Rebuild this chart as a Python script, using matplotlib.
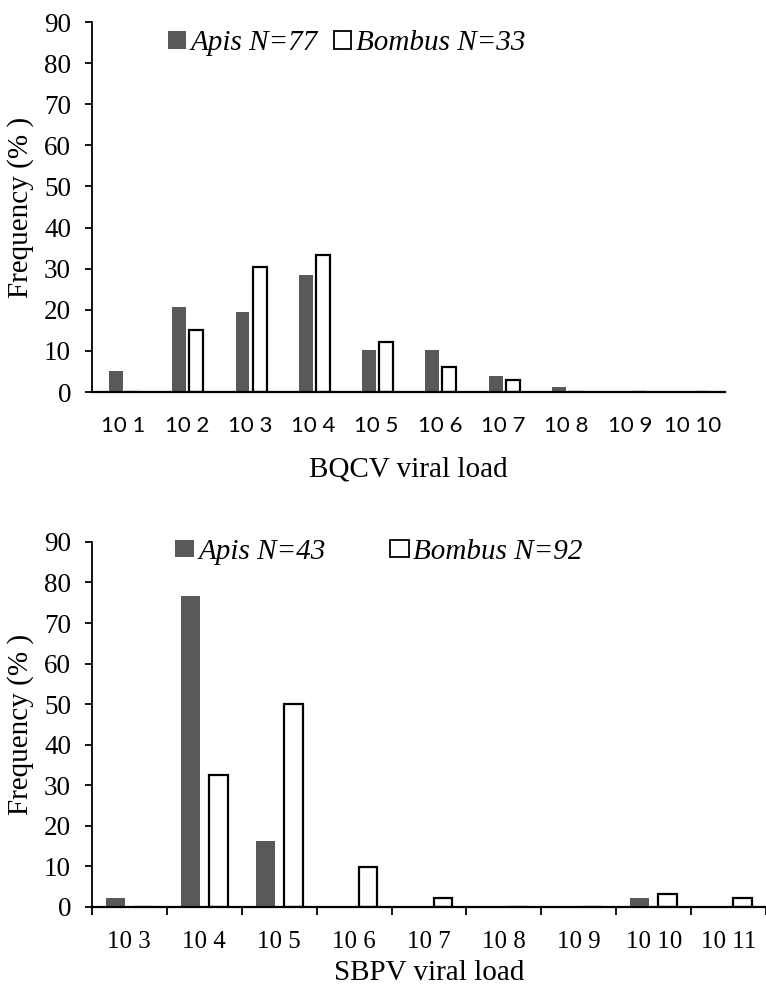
import matplotlib
matplotlib.use("Agg")
import matplotlib.pyplot as plt
from matplotlib.patches import Patch
import numpy as np

# BQCV panel
bqcv_labels = ["10 1", "10 2", "10 3", "10 4", "10 5", "10 6", "10 7", "10 8", "10 9", "10 10"]
bqcv_apis = [5.2, 20.6, 19.4, 28.5, 10.3, 10.3, 3.8, 1.3, 0, 0]
bqcv_bombus = [0, 15.2, 30.3, 33.3, 12.1, 6.1, 3.0, 0, 0, 0]

# SBPV panel
sbpv_labels = ["10 3", "10 4", "10 5", "10 6", "10 7", "10 8", "10 9", "10 10", "10 11"]
sbpv_apis = [2.3, 76.7, 16.3, 0, 0, 0, 0, 2.3, 0]
sbpv_bombus = [0, 32.6, 50.0, 9.8, 2.2, 0, 0, 3.3, 2.2]

serif = "Liberation Serif"
dark = "#595959"

fig = plt.figure(figsize=(7.66, 9.92), dpi=100)


def panel(ax, labels, apis, bombus, xlabel, w, offs, tickfont, ticksize, ticks, xpad, lpad):
    x = np.arange(len(labels))
    ax.bar(x + offs[0], apis, w, color=dark, edgecolor="none", zorder=2)
    ax.bar(x + offs[1], bombus, w, color="white", edgecolor="black", linewidth=1.6, zorder=2)
    ax.set_xlim(-0.5, len(labels) - 0.5)
    ax.set_ylim(0, 90)
    ax.set_yticks(range(0, 91, 10))
    for s in ["top", "right"]:
        ax.spines[s].set_visible(False)
    ax.spines["left"].set_linewidth(1.3)
    ax.spines["bottom"].set_linewidth(1.6)
    ax.tick_params(axis="y", direction="out", length=5, width=1.3, labelsize=19.5, pad=10)
    for t in ax.get_yticklabels():
        t.set_fontfamily(serif)
    ax.set_xticks(x)
    ax.set_xticklabels(labels, fontfamily=tickfont, fontsize=ticksize)
    ax.tick_params(axis="x", which="major", length=0, pad=xpad)
    if ticks:
        ax.set_xticks(np.arange(-0.5, len(labels), 1.0), minor=True)
        ax.tick_params(axis="x", which="minor", direction="out", length=5.5, width=1.3)
    ax.set_xlabel(xlabel, fontfamily=serif, fontsize=21, labelpad=lpad)
    ax.set_ylabel("Frequency (% )", fontfamily=serif, fontsize=21, labelpad=7)
    return ax


h = [Patch(facecolor=dark, edgecolor="none"),
     Patch(facecolor="white", edgecolor="black", linewidth=1.3)]
legfont = {"family": serif, "style": "italic", "size": 21}

ax1 = fig.add_axes([0.120, 0.6048, 0.826, 0.373])
panel(ax1, bqcv_labels, bqcv_apis, bqcv_bombus, "BQCV viral load",
      0.22, (-0.12, 0.15), "Lato", 16, False, 17, 15)
ax1.legend(h, ["Apis N=77", "Bombus N=33"], ncol=2, loc="center left",
           bbox_to_anchor=(0.121, 0.943), frameon=False, borderpad=0, borderaxespad=0,
           handlelength=0.6, handleheight=0.55, handletextpad=0.15, columnspacing=0.55,
           prop=legfont)

ax2 = fig.add_axes([0.120, 0.0857, 0.880, 0.368])
panel(ax2, sbpv_labels, sbpv_apis, sbpv_bombus, "SBPV viral load",
      0.25, (-0.187, 0.187), serif, 18, True, 17, 5)
ax2.legend(h, ["Apis N=43", "Bombus N=92"], ncol=2, loc="center left",
           bbox_to_anchor=(0.123, 0.973), frameon=False, borderpad=0, borderaxespad=0,
           handlelength=0.65, handleheight=0.55, handletextpad=0.15, columnspacing=2.2,
           prop=legfont)

fig.savefig("out.png", dpi=100)
